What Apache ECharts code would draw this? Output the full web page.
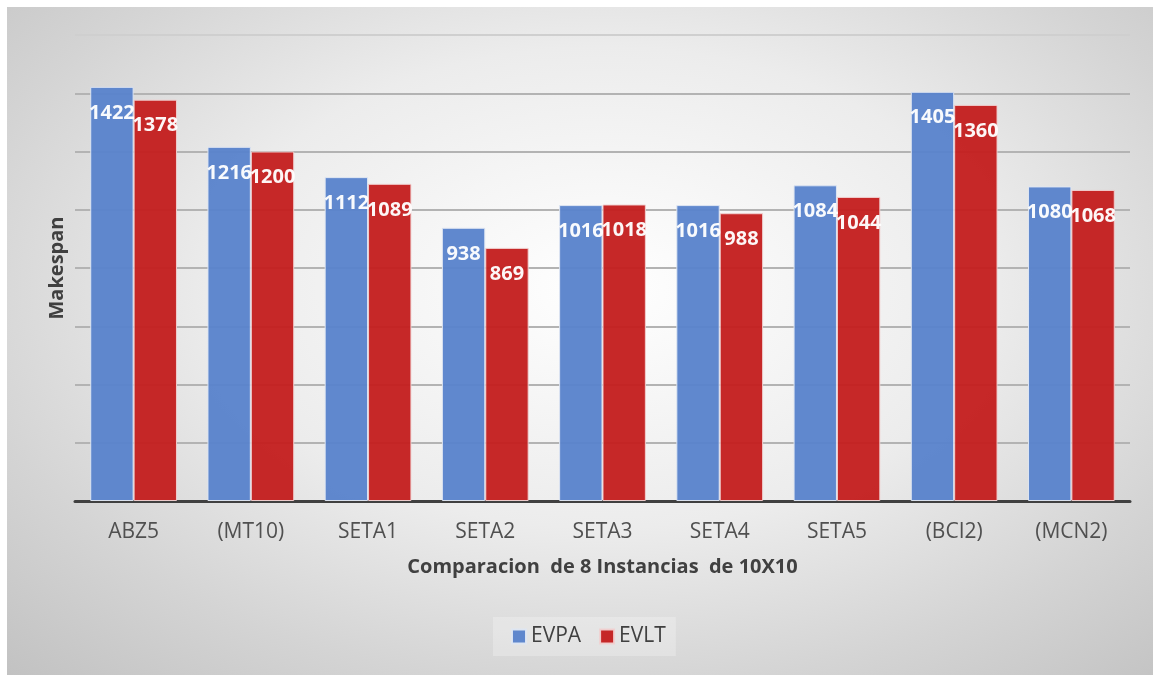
<!DOCTYPE html>
<html>
<head>
<meta charset="utf-8">
<script src="https://cdn.jsdelivr.net/npm/echarts@6/dist/echarts.min.js"></script>
<style>
html,body{margin:0;padding:0;background:#ffffff;width:1153px;height:675px;overflow:hidden;}
#bg{position:absolute;left:7px;top:7px;width:1146px;height:668px;
background:radial-gradient(ellipse 75% 80% at 52% 42%, #ffffff 0%, #ececec 45%, #d4d4d4 75%, #c2c2c2 100%);}
#chart{position:absolute;left:0;top:0;width:1153px;height:675px;}
</style>
</head>
<body>
<div id="bg"></div>
<div id="chart"></div>
<script>
const categories = ['ABZ5', '(MT10)', 'SETA1', 'SETA2', 'SETA3', 'SETA4', 'SETA5', '(BCI2)', '(MCN2)'];
const evpa = [1422, 1216, 1112, 938, 1016, 1016, 1084, 1405, 1080];
const evlt = [1378, 1200, 1089, 869, 1018, 988, 1044, 1360, 1068];
const seriesNames = ['EVPA', 'EVLT'];
const yMin = 0, yMax = 1600, yInterval = 200;

const chart = echarts.init(document.getElementById('chart'), null, {renderer: 'canvas'});
const labelStyle = {
  show: true, position: 'insideTop', distance: 16,
  color: '#ffffff', fontWeight: 'bold', fontSize: 20,
  fontFamily: 'Open Sans'
};
chart.setOption({
  backgroundColor: 'transparent',
  animation: false,
  grid: {left: 75, right: 23, top: 35, bottom: 174, containLabel: false},
  legend: {
    data: seriesNames, bottom: 19, left: 493,
    itemWidth: 14, itemHeight: 14, itemGap: 18,
    icon: 'rect',
    backgroundColor: 'rgba(255,255,255,0.25)',
    padding: [9, 10, 9, 18],
    textStyle: {fontSize: 21, color: '#404040', fontFamily: 'Open Sans'}
  },
  xAxis: {
    type: 'category', data: categories,
    name: 'Comparacion  de 8 Instancias  de 10X10',
    nameLocation: 'middle', nameGap: 56,
    nameTextStyle: {fontSize: 20, fontWeight: 'bold', color: '#404040', fontFamily: 'Open Sans'},
    axisLine: {lineStyle: {color: '#404040', width: 3}},
    axisTick: {show: false},
    axisLabel: {fontSize: 21, color: '#505050', margin: 21, fontFamily: 'Open Sans'}
  },
  yAxis: {
    type: 'value', min: yMin, max: yMax, interval: yInterval,
    name: 'Makespan', nameLocation: 'middle', nameGap: 8,
    nameTextStyle: {fontSize: 20, fontWeight: 'bold', color: '#404040', fontFamily: 'Open Sans'},
    axisLabel: {show: false},
    axisLine: {show: false},
    axisTick: {show: false},
    splitLine: {lineStyle: {color: ['#bdbdbd','#b3b3b3','#b3b3b3','#b3b3b3','#b3b3b3','#b3b3b3','#b3b3b3','#b3b3b3','#cfcfcf'], width: 2}}
  },
  series: [
    {
      name: seriesNames[0], type: 'bar', data: evpa,
      barGap: '0%', barCategoryGap: '26%',
      itemStyle: {color: '#5a83cc', borderColor: '#dfe6f3', borderWidth: 1, opacity: 0.96},
      label: labelStyle
    },
    {
      name: seriesNames[1], type: 'bar', data: evlt,
      barGap: '0%', barCategoryGap: '26%',
      itemStyle: {color: '#c41f1f', borderColor: '#f0d0d0', borderWidth: 1, opacity: 0.96},
      label: labelStyle
    }
  ]
});
</script>
</body>
</html>
